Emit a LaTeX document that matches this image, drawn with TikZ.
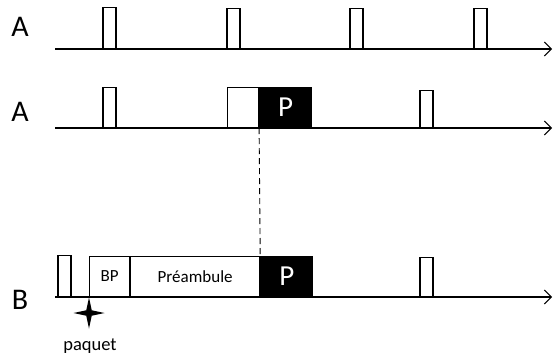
\documentclass[tikz,border=0pt]{standalone}
\usepackage{fontspec}
\setmainfont{Carlito}
\usetikzlibrary{arrows.meta, positioning, shapes.geometric}

\begin{document}
\begin{tikzpicture}[
            x=1pt, y=-1pt,
            node distance=0pt,
            pulse/.style={rectangle, draw=black, fill=white, line width=1.1pt, inner sep=0pt, minimum width=13pt, minimum height=40pt, anchor=south},
            framebox/.style={rectangle, draw=black, fill=white, line width=1.1pt, inner sep=0pt, minimum height=40pt, font=\fontsize{17}{17}\selectfont},
            databox/.style={rectangle, draw=black, fill=black, text=white, line width=1.1pt, inner sep=0pt, minimum width=52pt, minimum height=40pt, font=\fontsize{29}{29}\selectfont},
            chanlabel/.style={font=\fontsize{30}{30}\selectfont},
            timeaxis/.style={line width=1.1pt, -{Straight Barb[length=7pt, width=14pt, line width=1pt]}},
            ]
            \useasboundingbox (0,0) rectangle (553,354);

            % first line, node A
            \node[chanlabel] (la1) at (20,27) {A};
            \coordinate (s1) at (55,49);
            \coordinate (e1) at (552,49);
            \draw[timeaxis] (s1) -- (e1);
            \node[pulse, minimum height=41pt] (p11) at (109.5,49) {};
            \node[pulse] (p12) at (233.5,49) {};
            \node[pulse] (p13) at (356.5,49) {};
            \node[pulse] (p14) at (480.5,49) {};

            % second line, node A with its packet
            \node[chanlabel] (la2) at (20,112) {A};
            \coordinate (s2) at (55,128);
            \coordinate (e2) at (552,128);
            \draw[timeaxis] (s2) -- (e2);
            \node[pulse] (p21) at (109.5,128) {};
            \node[framebox, minimum width=31pt, anchor=south west] (w2) at (227,128) {};
            \node[databox] (d2) [right=of w2] {P};
            \node[pulse, minimum height=37pt] (p22) at (426.5,128) {};

            % third line, node B
            \node[chanlabel] (lb) at (20,300) {B};
            \coordinate (s3) at (55,297);
            \coordinate (e3) at (552,297);
            \draw[timeaxis] (s3) -- (e3);
            \node[pulse, minimum height=41pt] (p31) at (64.5,297) {};
            \node[framebox, minimum width=40pt, anchor=south west] (bp) at (89,297) {BP};
            \node[framebox, minimum width=129pt] (pre) [right=of bp] {Préambule\hspace{16pt}};
            \node[databox] (d3) [right=of pre] {P};
            \node[pulse, minimum height=39pt] (p32) at (426.5,297) {};

            \draw[dashed, line width=0.9pt, dash pattern=on 6pt off 4pt] (w2.south east) -- (d3.north west);

            % packet arrival
            \node[star, star points=4, star point ratio=4, fill=black, inner sep=0pt, minimum size=31pt] (arr) at (89,313) {};
            \node[font=\fontsize{18.5}{18.5}\selectfont, anchor=base] (paq) at (90,350) {paquet};
        \end{tikzpicture}
\end{document}
